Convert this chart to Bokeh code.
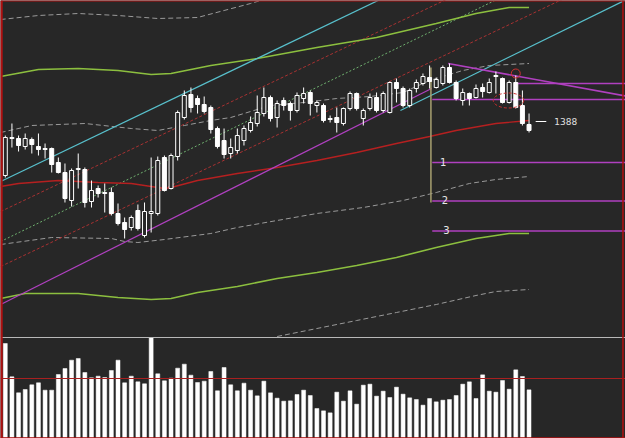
from bokeh.plotting import figure
from bokeh.models import Range1d, Span, Label
from bokeh.embed import file_html
from bokeh.resources import INLINE

# ---------------- data (bar index, price) ----------------
opens = [1334,1371,1371,1363,1370,1363,1361,1361,1347,1337, 1309,1340,1340,1308,1321,1317,1317,1296,1287,1282,
         1299,1274,1296,1296,1352,1321,1353,1392,1415,1411, 1405,1402,1381,1369,1356,1359,1369,1379,1386,1396,
         1412,1392,1409,1406,1399,1411,1417,1404,1404,1391, 1392,1386,1401,1416,1391,1401,1412,1399,1397,1427,
         1421,1404,1421,1426,1432,1422,1426,1442,1427,1409, 1416,1412,1422,1417,1433,1431,1407,1427,1404,1385]
closes = [1372,1372,1364,1371,1365,1360,1360,1345,1337,1311, 1339,1341,1307,1319,1316,1316,1296,1286,1280,1292,
          1281,1298,1298,1349,1319,1354,1397,1414,1402,1405, 1398,1380,1363,1355,1362,1374,1381,1387,1397,1412,
          1391,1406,1404,1399,1414,1416,1406,1407,1389,1390, 1387,1401,1416,1401,1399,1412,1399,1416,1427,1421,
          1404,1419,1427,1433,1428,1430,1442,1427,1411,1417, 1411,1421,1418,1427,1434,1407,1427,1402,1386,1379]
highs = [1374,1386,1374,1376,1372,1376,1366,1362,1352,1346, 1341,1356,1342,1329,1324,1326,1322,1306,1292,1294,
         1305,1307,1352,1353,1354,1356,1399,1419,1422,1414, 1413,1404,1383,1381,1371,1381,1384,1393,1414,1422,
         1414,1409,1412,1408,1417,1422,1419,1409,1406,1394, 1402,1402,1418,1417,1401,1416,1417,1418,1428,1431,
         1423,1421,1430,1436,1444,1432,1444,1446,1429,1421, 1417,1425,1426,1431,1438,1432,1429,1434,1419,1396]
lows = [1332,1362,1358,1360,1356,1354,1351,1337,1336,1307, 1303,1321,1302,1302,1312,1297,1294,1284,1271,1279,
        1279,1272,1277,1294,1318,1320,1349,1390,1397,1396, 1396,1376,1361,1351,1351,1356,1364,1377,1383,1393,
        1388,1382,1399,1389,1397,1406,1394,1397,1387,1387, 1377,1384,1399,1399,1384,1399,1397,1397,1396,1407,
        1402,1402,1417,1424,1421,1421,1424,1426,1409,1404, 1404,1411,1412,1416,1416,1406,1406,1401,1384,1377]
volumes = [282,182,134,144,158,164,142,142,189,207, 232,237,195,179,184,180,201,232,164,184,
           167,161,300,191,170,178,208,220,187,165, 169,198,140,210,158,140,163,142,125,169,
           134,118,109,110,129,142,126,87,80,74, 136,109,140,100,157,160,124,139,120,151,
           130,119,114,97,117,107,112,114,126,160, 167,117,188,139,136,171,145,203,183,143]
vol_level = 177

ma_x = [-0.7, 2, 8, 14, 19, 24, 25, 29, 35, 41, 47, 53, 59, 64, 68, 74, 79]
ma_y = [1323, 1326, 1329, 1327, 1326, 1321, 1322, 1329, 1336, 1342, 1349, 1357, 1366, 1373, 1379, 1386, 1389]

band_up_x = [-0.7, 5, 11, 17, 22, 25, 31, 38, 47, 56, 65, 71, 76, 79]
band_up_y = [1433, 1440, 1441, 1439, 1435, 1436, 1444, 1451, 1462, 1472, 1486, 1496, 1502, 1502]
band_dn_x = [-0.7, 3, 11, 17, 22, 25, 29, 35, 41, 47, 53, 59, 65, 71, 76, 79]
band_dn_y = [1211, 1216, 1216, 1212, 1210, 1211, 1217, 1223, 1231, 1237, 1244, 1252, 1262, 1271, 1276, 1276]

gray_top_x = [-0.7, 5, 11, 17, 23, 29, 33, 37, 40]
gray_top_y = [1490, 1494, 1496, 1494, 1491, 1492, 1499, 1506, 1512]
gray_mid_x = [-0.7, 4, 12, 19, 23, 27, 31, 34, 40, 45, 50, 55, 60, 64, 69, 73, 79]
gray_mid_y = [1377, 1384, 1386, 1381, 1379, 1384, 1389, 1392, 1404, 1407, 1411, 1413, 1417, 1429, 1439, 1444, 1446]
gray_low_x = [-0.7, 7, 16, 18, 20, 24, 31, 35, 41, 47, 54, 60, 65, 70, 74, 79]
gray_low_y = [1265, 1272, 1271, 1268, 1267, 1270, 1276, 1282, 1289, 1296, 1302, 1309, 1317, 1326, 1330, 1333]
gray_bot_x = [41, 47, 53, 59, 65, 71, 74, 79]
gray_bot_y = [1173, 1181, 1189, 1197, 1205, 1214, 1218, 1220]

cyan1 = ([-0.7, 60], [1328, 1521])
cyan2 = ([59.6, 94], [1399, 1511])
mag_up = ([-0.7, 64.3], [1205, 1421])
mag_dn = ([66.8, 94], [1446, 1413])
red_dash_a = ([-0.7, 70], [1298, 1521])
red_dash_b = ([-0.7, 90], [1243, 1529])
green_dash = ([-0.7, 76], [1268, 1516])

level_prices = [1426, 1410, 1347, 1308.5, 1278.5]
level_starts = [77.2, 64.4, 64.4, 64.4, 64.4]
level_names = ["", "", "1", "2", "3"]
vline_x = 64.2
vline_y = [1307, 1442]
circle_pt = (77.0, 1436)
ellipse_pt = (75.9, 1409)
last_price = 1388

# ---------------- figure ----------------
BG = "#272727"
p = figure(width=625, height=438, x_range=Range1d(-0.724, 93.55), y_range=Range1d(1071, 1509),
           output_backend="svg", toolbar_location=None, min_border=0,
           x_axis_location=None, y_axis_location=None)
p.extra_y_ranges = {"vol": Range1d(-3, 1311)}
p.grid.visible = False
p.background_fill_color = BG
p.border_fill_color = BG
p.outline_line_color = None

# bands / indicators
p.line(gray_top_x, gray_top_y, line_color="#9a9a9a", line_dash="5 3", line_width=1)
p.line(gray_mid_x, gray_mid_y, line_color="#9a9a9a", line_dash="5 3", line_width=1)
p.line(gray_low_x, gray_low_y, line_color="#9a9a9a", line_dash="5 3", line_width=1)
p.line(gray_bot_x, gray_bot_y, line_color="#9a9a9a", line_dash="5 3", line_width=1)
p.line(*red_dash_a, line_color="#a83232", line_dash="3 2", line_width=1)
p.line(*red_dash_b, line_color="#a83232", line_dash="3 2", line_width=1)
p.line(*green_dash, line_color="#6fb06f", line_dash="2 2", line_width=1)
p.line(band_up_x, band_up_y, line_color="#8cbf3f", line_width=1.6)
p.line(band_dn_x, band_dn_y, line_color="#8cbf3f", line_width=1.6)
p.line(ma_x, ma_y, line_color="#b52020", line_width=1.4)
p.line(*cyan1, line_color="#58c0cc", line_width=1.2)
p.line(*cyan2, line_color="#58c0cc", line_width=1.2)
p.line(*mag_up, line_color="#b040c0", line_width=1.2)
p.line(*mag_dn, line_color="#b040c0", line_width=1.6)

for lp, ls, ln in zip(level_prices, level_starts, level_names):
    p.segment(x0=[ls], y0=[lp], x1=[94], y1=[lp], line_color="#b040c0", line_width=1.6)
    if ln:
        p.add_layout(Label(x=ls + 1.4 + 0.25 * int(ln), y=lp + 1, text=ln, text_color="#e8e8e8",
                           text_font_size="10px", text_font="DejaVu Sans", text_baseline="middle",
                           text_align="center"))
p.segment(x0=[vline_x], y0=[vline_y[0]], x1=[vline_x], y1=[vline_y[1]], line_color="#a8a070", line_width=1.5)

# candles
bull = [i for i in range(len(opens)) if closes[i] >= opens[i]]
bear = [i for i in range(len(opens)) if closes[i] < opens[i]]
xs = list(range(len(opens)))
p.segment(x0=xs, y0=lows, x1=xs, y1=highs, line_color="#ffffff", line_width=1)
p.vbar(x=bull, width=0.6, top=[max(opens[i], closes[i]) for i in bull],
       bottom=[min(opens[i], closes[i]) for i in bull], fill_color=BG, line_color="#ffffff", line_width=1)
p.vbar(x=bear, width=0.6, top=[max(opens[i], closes[i]) for i in bear],
       bottom=[min(opens[i], closes[i]) for i in bear], fill_color="#ffffff", line_color="#ffffff", line_width=1)

# markers
p.scatter(x=[circle_pt[0]], y=[circle_pt[1]], size=9, marker="circle", fill_color=None,
          line_color="#d03030", line_width=1)
p.ellipse(x=[ellipse_pt[0]], y=[ellipse_pt[1]], width=4.6, height=15, fill_color=None,
          line_color="#c83030", line_dash="3 2", line_width=1)
p.segment(x0=[80.0], y0=[last_price], x1=[81.6], y1=[last_price], line_color="#ffffff", line_width=1.2)
p.add_layout(Label(x=82.8, y=last_price, text=str(last_price), text_color="#e0e0e0", text_font_size="9px",
                   text_font="DejaVu Sans", text_baseline="middle", text_align="left"))

# volume pane
p.vbar(x=xs, width=0.6, top=volumes, bottom=0, fill_color="#ffffff", line_color="#ffffff",
       line_width=0.5, y_range_name="vol")
p.add_layout(Span(location=vol_level, dimension="width", line_color="#a82020", line_width=1.2,
                  y_range_name="vol"))
p.add_layout(Span(location=1172, dimension="width", line_color="#b8b8b8", line_width=1.2))

# frame
p.add_layout(Span(location=-0.58, dimension="height", line_color="#b01010", line_width=2.5))
p.add_layout(Span(location=93.17, dimension="height", line_color="#b01010", line_width=1.5))
p.add_layout(Span(location=1508.6, dimension="width", line_color="#b01010", line_width=1.2))
p.add_layout(Span(location=1071.6, dimension="width", line_color="#b01010", line_width=1.2))

open("out.html", "w").write(file_html(p, INLINE))
